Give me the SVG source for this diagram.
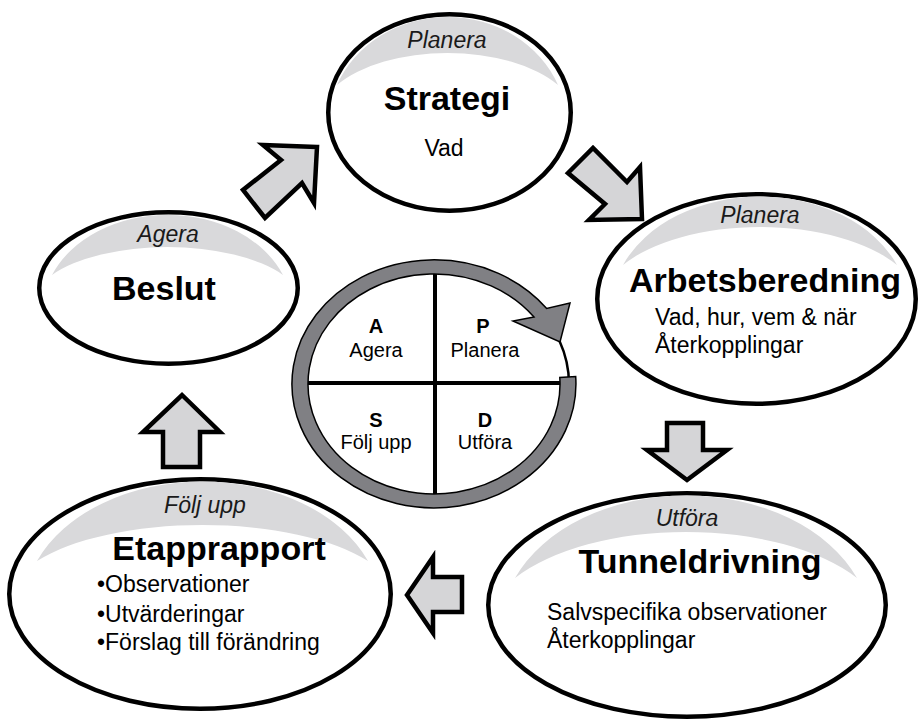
<svg xmlns="http://www.w3.org/2000/svg" width="920" height="722" viewBox="0 0 920 722">
  <style>
    .oval { fill: #ffffff; stroke: #000000; stroke-width: 4.5; }
    .band { fill: #d9d9db; stroke: none; }
    .phase { font-family: "Liberation Sans", Arial, sans-serif; font-size: 23px; font-style: italic; fill: #1a1a1a; text-anchor: middle; }
    .title { font-family: "Liberation Sans", Arial, sans-serif; font-size: 34px; font-weight: bold; fill: #000000; text-anchor: middle; }
    .body { font-family: "Liberation Sans", Arial, sans-serif; font-size: 23px; fill: #000000; }
    .mid { text-anchor: middle; }
    .block { fill: #d5d5d7; stroke: #000000; stroke-width: 4.5; stroke-linejoin: miter; }
    .quad { font-family: "Liberation Sans", Arial, sans-serif; font-size: 20px; fill: #000000; text-anchor: middle; }
    .quad-letter { font-weight: bold; }
  </style>

  <!-- Block arrows between the stages -->
  <g id="connectors">
    <polygon class="block" points="317,147 263,145 281,160 243,190 265,218 302,183 314,203"/>
    <polygon class="block" points="568,173 593,148 627,182 640,167 642,219 589,220 605,204"/>
    <polygon class="block" points="667,423 703,423 703,450 727,450 687,480 647,450 667,450"/>
    <polygon class="block" points="407,595 433,557 433,577 462,577 462,612 433,612 433,633"/>
    <polygon class="block" points="182,395 220,432 200,432 200,467 163,467 163,432 143,432"/>
  </g>

  <!-- Strategi -->
  <g id="node-strategi">
    <ellipse class="oval" cx="449.5" cy="112.5" rx="121.25" ry="98.25"/>
    <path class="band" d="M337,85 A119.3,109.3 0 0 1 558,85 A129.3,66.5 0 0 0 337,85 Z"/>
    <text class="phase" x="447" y="48">Planera</text>
    <text class="title" x="447" y="110">Strategi</text>
    <text class="body mid" x="444" y="156">Vad</text>
  </g>

  <!-- Arbetsberedning -->
  <g id="node-arbetsberedning">
    <ellipse class="oval" cx="756.5" cy="299" rx="159.25" ry="104.75"/>
    <path class="band" d="M623,265 A148,110 0 0 1 897,265 A160.3,79 0 0 0 623,265 Z"/>
    <text class="phase" x="760" y="223">Planera</text>
    <text class="title" x="765" y="292">Arbetsberedning</text>
    <text class="body" x="655" y="325">Vad, hur, vem &amp; när</text>
    <text class="body" x="655" y="353">Återkopplingar</text>
  </g>

  <!-- Tunneldrivning -->
  <g id="node-tunneldrivning">
    <ellipse class="oval" cx="687" cy="605" rx="198.75" ry="111.75"/>
    <path class="band" d="M515,578 A184.7,132.6 0 0 1 857,578 A200,95.6 0 0 0 515,578 Z"/>
    <text class="phase" x="687" y="526">Utföra</text>
    <text class="title" x="700" y="573">Tunneldrivning</text>
    <text class="body" x="547" y="620">Salvspecifika observationer</text>
    <text class="body" x="547" y="648">Återkopplingar</text>
  </g>

  <!-- Etapprapport -->
  <g id="node-etapprapport">
    <ellipse class="oval" cx="200" cy="594" rx="190.75" ry="114.75"/>
    <path class="band" d="M37,561 A178.7,127.8 0 0 1 368,561 A193.6,74.8 0 0 0 37,561 Z"/>
    <text class="phase" x="205" y="513">Följ upp</text>
    <text class="title" x="219" y="560">Etapprapport</text>
    <text class="body" x="97" y="592">•Observationer</text>
    <text class="body" x="97" y="622">•Utvärderingar</text>
    <text class="body" x="97" y="650">•Förslag till förändring</text>
  </g>

  <!-- Beslut -->
  <g id="node-beslut">
    <ellipse class="oval" cx="168.5" cy="288" rx="129.25" ry="75.75"/>
    <path class="band" d="M52,275 A124.7,96.5 0 0 1 283,275 A135.1,58.2 0 0 0 52,275 Z"/>
    <text class="phase" x="168" y="242">Agera</text>
    <text class="title" x="164" y="300">Beslut</text>
  </g>

  <!-- PDCA wheel in the middle -->
  <g id="node-pdca">
    <ellipse cx="434" cy="384" rx="135" ry="117" fill="#ffffff" stroke="#000000" stroke-width="2.5"/>
    <line x1="435" y1="271" x2="435" y2="497" stroke="#000000" stroke-width="4"/>
    <line x1="306" y1="383" x2="562" y2="383" stroke="#000000" stroke-width="4"/>
    <path d="M575.7,376.6 A142,124 0 1 1 546.7,308.5 L570,303 L560,342 L513,321 L534,317 A126,110 0 1 0 559.8,377.5 Z"
          fill="#808084" stroke="#000000" stroke-width="1.5" stroke-linejoin="miter"/>
    <text class="quad quad-letter" x="376" y="333">A</text>
    <text class="quad" x="376" y="357">Agera</text>
    <text class="quad quad-letter" x="483" y="333">P</text>
    <text class="quad" x="485" y="357">Planera</text>
    <text class="quad quad-letter" x="376" y="427">S</text>
    <text class="quad" x="376" y="449">Följ upp</text>
    <text class="quad quad-letter" x="485" y="427">D</text>
    <text class="quad" x="485" y="449">Utföra</text>
  </g>
</svg>
